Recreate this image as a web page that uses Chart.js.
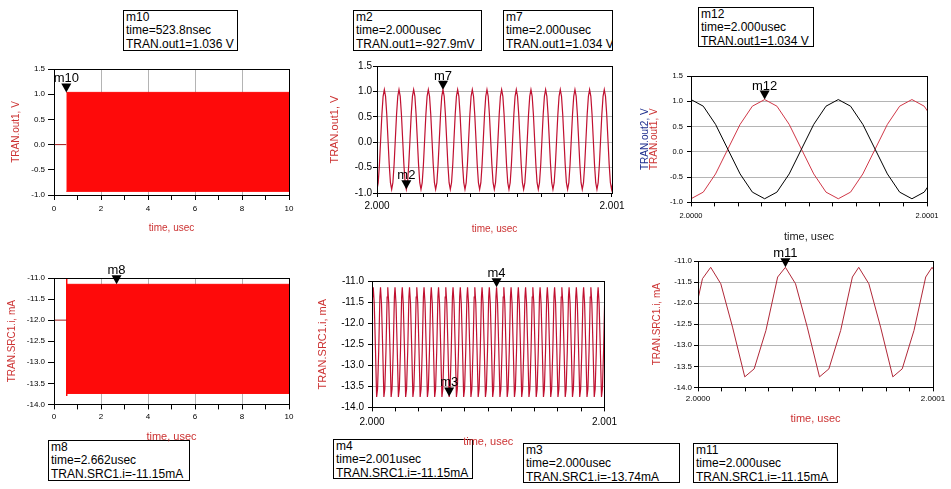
<!DOCTYPE html>
<html>
<head>
<meta charset="utf-8">
<script src="https://cdn.jsdelivr.net/npm/chart.js@4.4.0/dist/chart.umd.min.js"></script>
<style>
  body { margin: 0; background: #fff; width: 951px; height: 489px; overflow: hidden; position: relative; }
  canvas { position: absolute; }
  .readout {
    position: absolute; box-sizing: border-box; border: 1px solid #000; background: #fff;
    font: 12px "Liberation Sans", Arial, sans-serif; line-height: 13.3px; color: #000;
    padding: 0 2px; white-space: nowrap; overflow: hidden;
  }
</style>
</head>
<body>
<script>
// ---- data ----
// full 0..10 usec run: the carrier is far too dense to resolve, so only its envelope
const out1StartUs = 0.5238;          // oscillation starts (m10)
const out1Idle = 0.0;                // before start
const out1Envelope = [1.036, -0.928]; // max, min
const src1StartUs = 0.54;
const src1Idle = -12.0;
const src1Envelope = [-11.15, -13.74];
const src1Spike = [-11.02, -13.80];

// one period of out1 (62.4 ps), offsets from a peak in ps, values in V
const out1CycleAt = [0, 5.2, 10.4, 15.6, 20.8, 26.0, 31.2, 36.4, 41.6, 46.8, 52.0, 57.2];
const out1CycleV  = [1.034, 0.903, 0.543, 0.053, -0.437, -0.797, -0.928, -0.797, -0.437, 0.053, 0.543, 0.903];
// peak times, ps after 2.000 usec
const out1Peaks = [-31.2, 31.2, 93.6, 156.0, 218.4, 280.8, 343.2, 405.6, 468.0, 530.4, 592.8,
                   655.2, 717.6, 780.0, 842.4, 904.8, 967.2];
const out1PeaksZoom = [-31.2, 31.2, 93.6];
const out2PeaksZoom = [0, 62.4];

// one period of SRC1.i (31.2 ps), offsets from a peak in ps, values in mA
const src1CycleAt = [0, 4.3, 9.3, 14.5, 18.5, 23.5, 28.5];
const src1CycleV  = [-11.15, -11.54, -12.57, -13.75, -13.56, -12.65, -11.38];
const src1Lead = [[0, -11.90], [1.9, -11.42]];
const src1Peaks = [5.4, 36.6, 67.8, 99.0, 130.2, 161.4, 192.6, 223.8, 255.0, 286.2, 317.4,
                   348.6, 379.8, 411.0, 442.2, 473.4, 504.6, 535.8, 567.0, 598.2, 629.4,
                   660.6, 691.8, 723.0, 754.2, 785.4, 816.6, 847.8, 879.0, 910.2, 941.4, 972.6];
const src1PeaksZoom = [5.4, 37.2, 68.4, 99.6];

// marker readouts
const readouts = [
  { lines: ['m10', 'time=523.8nsec', 'TRAN.out1=1.036 V'], box: [123, 10, 115, 41] },
  { lines: ['m2', 'time=2.000usec', 'TRAN.out1=-927.9mV'], box: [353, 10, 129, 41] },
  { lines: ['m7', 'time=2.000usec', 'TRAN.out1=1.034 V'], box: [503, 10, 110, 41] },
  { lines: ['m12', 'time=2.000usec', 'TRAN.out1=1.034 V'], box: [698, 7, 116, 40] },
  { lines: ['m8', 'time=2.662usec', 'TRAN.SRC1.i=-11.15mA'], box: [48, 440, 142, 41] },
  { lines: ['m4', 'time=2.001usec', 'TRAN.SRC1.i=-11.15mA'], box: [333, 439, 140, 40] },
  { lines: ['m3', 'time=2.000usec', 'TRAN.SRC1.i=-13.74mA'], box: [523, 443, 157, 40] },
  { lines: ['m11', 'time=2.000usec', 'TRAN.SRC1.i=-11.15mA'], box: [693, 443, 145, 40] }
];

const FONT = '"Liberation Sans", Arial, sans-serif';
const GRID = '#b4b4b4';
const FILL = '#fe0a0a';
const WAVE = '#c01030';
const TITLE_RED = '#cc3333';
const PAD_T = 24, PAD_R = 16;

Chart.defaults.font.family = FONT;

function cyclePoints(peaks, at, vals, lead) {
  const pts = (lead || []).map(p => ({ x: p[0], y: p[1] }));
  peaks.forEach(p => at.forEach((o, i) => pts.push({ x: +(p + o).toFixed(2), y: vals[i] })));
  return pts;
}
function seg(x0, x1, y) { return [{ x: x0, y: y }, { x: x1, y: y }]; }

readouts.forEach(r => {
  const d = document.createElement('div');
  d.className = 'readout';
  d.style.left = r.box[0] + 'px';
  d.style.top = r.box[1] + 'px';
  d.style.width = r.box[2] + 'px';
  d.style.height = r.box[3] + 'px';
  d.innerHTML = r.lines.map(t => '<div>' + t + '</div>').join('');
  document.body.appendChild(d);
});

// black frame round the plot area
const framePlugin = {
  id: 'frame',
  afterDatasetsDraw(chart) {
    const a = chart.chartArea, ctx = chart.ctx;
    ctx.save();
    ctx.strokeStyle = '#000';
    ctx.lineWidth = 1;
    const l = Math.round(a.left) + 0.5, t = Math.round(a.top) + 0.5;
    ctx.strokeRect(l, t, Math.round(a.right) - Math.round(a.left), Math.round(a.bottom) - Math.round(a.top));
    ctx.restore();
  }
};

// ADS markers: down triangle with its name above
const markerPlugin = {
  id: 'markers',
  afterDraw(chart, args, opts) {
    const ctx = chart.ctx, xs = chart.scales.x, ys = chart.scales.y;
    (opts.list || []).forEach(m => {
      const px = xs.getPixelForValue(m.x), py = ys.getPixelForValue(m.y);
      ctx.save();
      ctx.fillStyle = '#000';
      ctx.beginPath();
      ctx.moveTo(px, py);
      ctx.lineTo(px - 5, py - 9);
      ctx.lineTo(px + 5, py - 9);
      ctx.closePath();
      ctx.fill();
      ctx.font = '13px ' + FONT;
      ctx.textAlign = 'center';
      ctx.textBaseline = 'alphabetic';
      ctx.fillText(m.name, px, py - 10);
      ctx.restore();
    });
  }
};

// stacked y titles with their own colours
const stackTitlePlugin = {
  id: 'stackTitle',
  afterDraw(chart, args, opts) {
    const ctx = chart.ctx, a = chart.chartArea;
    (opts.list || []).forEach(t => {
      ctx.save();
      ctx.translate(t.x, (a.top + a.bottom) / 2);
      ctx.rotate(-Math.PI / 2);
      ctx.font = t.size + 'px ' + FONT;
      ctx.fillStyle = t.color;
      ctx.textAlign = 'center';
      ctx.textBaseline = 'middle';
      ctx.fillText(t.text, 0, 0);
      ctx.restore();
    });
  }
};

function makePanel(p) {
  const [L, R, T, B] = p.area;
  const lhY = p.yTitleSize * 1.2, lhX = p.xTitleSize * 1.2;
  const left = p.canvasLeft !== undefined ? p.canvasLeft : Math.round(p.yTitleX - lhY / 2);
  const wy = L - left;
  const hx = p.xTitleY + lhX / 2 - B;
  const top = T - PAD_T;
  const w = Math.round(wy + (R - L) + PAD_R);
  const h = Math.round(PAD_T + (B - T) + hx);

  const canvas = document.createElement('canvas');
  canvas.width = w; canvas.height = h;
  canvas.style.left = left + 'px'; canvas.style.top = top + 'px';
  canvas.style.width = w + 'px'; canvas.style.height = h + 'px';
  document.body.appendChild(canvas);

  const tickFont = { size: p.tickSize, family: FONT };
  new Chart(canvas, {
    type: 'line',
    data: { datasets: p.datasets },
    options: {
      responsive: false,
      animation: false,
      layout: { padding: { top: PAD_T, right: PAD_R, left: 0, bottom: 0 } },
      elements: { point: { radius: 0 }, line: { tension: 0 } },
      plugins: {
        legend: { display: false },
        tooltip: { enabled: false },
        markers: { list: p.markers },
        stackTitle: { list: p.stackTitles || [] }
      },
      scales: {
        x: {
          type: 'linear', min: p.xMin, max: p.xMax,
          afterFit: s => { s.height = hx; },
          ticks: { stepSize: p.xStep, autoSkip: false, maxRotation: 0, color: '#000', font: tickFont,
                   padding: p.xPad, callback: p.xLabel },
          grid: { drawOnChartArea: !!p.xGrid, color: p.xGrid || GRID, tickColor: '#000', tickLength: p.xTick },
          border: { display: false },
          title: { display: true, text: 'time, usec', color: p.xTitleColor || TITLE_RED,
                   font: { size: p.xTitleSize, family: FONT }, padding: 0 }
        },
        y: {
          min: p.yMin, max: p.yMax,
          afterFit: s => { s.width = wy; },
          ticks: { stepSize: 0.5, color: '#000', font: tickFont, padding: p.yPad,
                   callback: v => v.toFixed(1) },
          grid: { drawOnChartArea: !!p.yGrid, color: GRID, tickColor: '#000', tickLength: p.yTick },
          border: { display: false },
          title: { display: !!p.yTitle, text: p.yTitle, color: TITLE_RED,
                   font: { size: p.yTitleSize, family: FONT }, padding: 0 }
        }
      }
    },
    plugins: [framePlugin, markerPlugin, stackTitlePlugin]
  });
}

const evenGrid = ctx => (ctx.tick && ctx.tick.value % 2 === 0 ? GRID : 'transparent');
const evenLabel = v => (v % 2 === 0 ? String(v) : '');
const nsLabel = v => (v === 0 ? '2.000' : v === 1000 ? '2.001' : '');
const zoomLabel = v => (v === 0 ? '2.0000' : v === 100 ? '2.0001' : '');

// top-left: out1 over the whole run
makePanel({
  area: [54, 289, 69, 195], xMin: 0, xMax: 10, xStep: 1, xLabel: evenLabel, xGrid: evenGrid,
  yMin: -1, yMax: 1.5, yTitle: 'TRAN.out1, V', yTitleSize: 10, yTitleX: 16,
  xTitleSize: 10, xTitleY: 228, tickSize: 8, xTick: 5, xPad: 3.5, yTick: 6, yPad: 3,
  datasets: [
    { data: seg(0, out1StartUs, out1Idle), borderColor: '#a01818', borderWidth: 1 },
    { data: seg(out1StartUs, 10, out1Envelope[0]), borderColor: FILL, borderWidth: 1,
      backgroundColor: FILL, fill: '+1' },
    { data: seg(out1StartUs, 10, out1Envelope[1]), borderColor: FILL, borderWidth: 1 }
  ],
  markers: [{ name: 'm10', x: out1StartUs, y: 1.036 }]
});

// bottom-left: SRC1 current over the whole run
makePanel({
  area: [54, 289, 278, 404], xMin: 0, xMax: 10, xStep: 1, xLabel: evenLabel, xGrid: evenGrid,
  yMin: -14, yMax: -11, yTitle: 'TRAN.SRC1.i, mA', yTitleSize: 10, yTitleX: 12,
  xTitleSize: 11, xTitleY: 437, tickSize: 8, xTick: 5, xPad: 3, yTick: 6, yPad: 3,
  datasets: [
    { data: seg(0, src1StartUs, src1Idle), borderColor: '#a01818', borderWidth: 1 },
    { data: [{ x: src1StartUs, y: src1Spike[0] }, { x: src1StartUs, y: src1Spike[1] }],
      borderColor: FILL, borderWidth: 1 },
    { data: seg(src1StartUs, 10, src1Envelope[0]), borderColor: FILL, borderWidth: 1,
      backgroundColor: FILL, fill: '+1' },
    { data: seg(src1StartUs, 10, src1Envelope[1]), borderColor: FILL, borderWidth: 1 }
  ],
  markers: [{ name: 'm8', x: 2.662, y: -11.15 }]
});

// top-middle: out1, 1 ns window
makePanel({
  area: [377, 612, 66, 193], xMin: 0, xMax: 1000, xStep: 100, xLabel: nsLabel,
  yMin: -1, yMax: 1.5, yGrid: true, yTitle: 'TRAN.out1, V', yTitleSize: 11, yTitleX: 335,
  xTitleSize: 10, xTitleY: 229, tickSize: 10, xTick: 4, xPad: 3.5, yTick: 4, yPad: 1,
  datasets: [
    { data: cyclePoints(out1Peaks, out1CycleAt, out1CycleV), borderColor: WAVE, borderWidth: 1.2 }
  ],
  markers: [{ name: 'm2', x: 124.8, y: -0.928 }, { name: 'm7', x: 280.8, y: 1.034 }]
});

// bottom-middle: SRC1 current, 1 ns window
makePanel({
  area: [372, 606, 281, 407], xMin: 0, xMax: 1000, xStep: 100, xLabel: nsLabel,
  yMin: -14, yMax: -11, yGrid: true, yTitle: 'TRAN.SRC1.i, mA', yTitleSize: 11, yTitleX: 323,
  xTitleSize: 11, xTitleY: 442, tickSize: 10, xTick: 4, xPad: 5, yTick: 4, yPad: 4,
  datasets: [
    { data: cyclePoints(src1Peaks, src1CycleAt, src1CycleV, src1Lead), borderColor: WAVE, borderWidth: 1.2 }
  ],
  markers: [{ name: 'm4', x: 535.8, y: -11.15 }, { name: 'm3', x: 331.9, y: -13.74 }]
});

// top-right: out1 and out2, 0.1 ns window
makePanel({
  area: [691, 928, 76, 202], canvasLeft: 636, xMin: 0, xMax: 100, xStep: 10, xLabel: zoomLabel,
  yMin: -1, yMax: 1.5, yGrid: true, yTitleSize: 10,
  xTitleSize: 11, xTitleY: 237, xTitleColor: '#222', tickSize: 7.5, xTick: 4, xPad: 5.5, yTick: 4, yPad: 4,
  stackTitles: [
    { text: 'TRAN.out2, V', color: '#1c2c8c', size: 10, x: 645 - 636 },
    { text: 'TRAN.out1, V', color: TITLE_RED, size: 10, x: 654 - 636 }
  ],
  datasets: [
    { data: cyclePoints(out2PeaksZoom, out1CycleAt, out1CycleV), borderColor: '#000', borderWidth: 1 },
    { data: cyclePoints(out1PeaksZoom, out1CycleAt, out1CycleV), borderColor: '#d03848', borderWidth: 1 }
  ],
  markers: [{ name: 'm12', x: 31.2, y: 1.034 }]
});

// bottom-right: SRC1 current, 0.1 ns window
makePanel({
  area: [698, 933, 261, 387], xMin: 0, xMax: 100, xStep: 10, xLabel: zoomLabel,
  yMin: -14, yMax: -11, yGrid: true, yTitle: 'TRAN.SRC1.i, mA', yTitleSize: 10, yTitleX: 657,
  xTitleSize: 11, xTitleY: 419, tickSize: 8, xTick: 4, xPad: 3, yTick: 4, yPad: 2,
  datasets: [
    { data: cyclePoints(src1PeaksZoom, src1CycleAt, src1CycleV, src1Lead), borderColor: '#b02838', borderWidth: 1 }
  ],
  markers: [{ name: 'm11', x: 37.2, y: -11.15 }]
});
</script>
</body>
</html>
